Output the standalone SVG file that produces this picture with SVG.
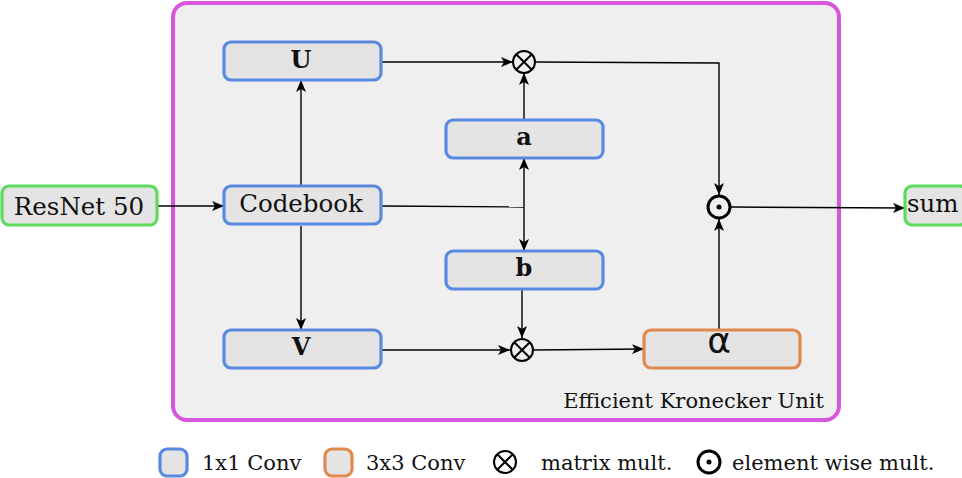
<svg xmlns="http://www.w3.org/2000/svg" width="962" height="478" viewBox="0 0 962 478">
<style>
.box{fill:#e4e4e4;stroke-width:3.2}
.blue{stroke:#5a8ae0}
.orange{stroke:#e0894f}
.green{stroke:#5cdc5c}
.t{font-family:"DejaVu Serif",serif;font-size:24.5px;fill:#111;text-anchor:middle}
.b{font-weight:bold;font-size:24px}
.lg{font-family:"DejaVu Serif",serif;font-size:21px;fill:#111}
.c{fill:none;stroke:#000;stroke-width:1.4}
.op{fill:none;stroke:#000;stroke-width:2}
</style>
<defs>
<marker id="ah" viewBox="0 0 12 10" refX="12" refY="5" markerWidth="12" markerHeight="10" markerUnits="userSpaceOnUse" orient="auto">
<path d="M0,0 L12,5 L0,10 L3,5 Z" fill="#000"/>
</marker>
</defs>
<rect x="0" y="0" width="962" height="478" fill="#fff"/>
<g id="ekunit">
<rect x="173" y="3" width="666" height="417" rx="14" fill="#efefef" stroke="#d855dd" stroke-width="4"/>
<text class="lg" x="824" y="408" text-anchor="end">Efficient Kronecker Unit</text>
</g>
<g id="connectors">
<path class="c" d="M158,206 H224" marker-end="url(#ah)"/>
<path class="c" d="M301,186 V80" marker-end="url(#ah)"/>
<path class="c" d="M301,226 V330" marker-end="url(#ah)"/>
<path class="c" d="M381,62 H513" marker-end="url(#ah)"/>
<path class="c" d="M381,206 L524,207"/>
<path class="c" d="M524,207 V158" marker-end="url(#ah)"/>
<path class="c" d="M524,207 V251" marker-end="url(#ah)"/>
<path class="c" d="M524,120 V73" marker-end="url(#ah)"/>
<path class="c" d="M535,62 L719,63 V195" marker-end="url(#ah)"/>
<path class="c" d="M522,289 V338" marker-end="url(#ah)"/>
<path class="c" d="M381,350 H510" marker-end="url(#ah)"/>
<path class="c" d="M534,350 L644,349" marker-end="url(#ah)"/>
<path class="c" d="M719,330 V219" marker-end="url(#ah)"/>
<path class="c" d="M731,207 L905,208" marker-end="url(#ah)"/>
</g>
<g id="resnet">
<rect class="box green" x="2" y="186" width="155" height="39" rx="7"/>
<text class="t" x="79" y="214.5">ResNet 50</text>
</g>
<g id="codebook">
<rect class="box blue" x="224" y="186" width="157" height="38" rx="7"/>
<text class="t" x="301" y="212">Codebook</text>
</g>
<g id="U">
<rect class="box blue" x="224" y="42" width="157" height="38" rx="7"/>
<text class="t b" x="301" y="67.5">U</text>
</g>
<g id="V">
<rect class="box blue" x="224" y="330" width="157" height="38" rx="7"/>
<text class="t b" x="301" y="355">V</text>
</g>
<g id="a">
<rect class="box blue" x="446" y="120" width="157" height="38" rx="7"/>
<text class="t b" x="524" y="144.5">a</text>
</g>
<g id="b">
<rect class="box blue" x="446" y="251" width="157" height="38" rx="7"/>
<text class="t b" x="524" y="276">b</text>
</g>
<g id="alpha">
<rect class="box orange" x="644" y="330" width="156" height="38" rx="7"/>
<text x="719" y="352.5" text-anchor="middle" font-family="DejaVu Sans,sans-serif" font-size="36" fill="#111">α</text>
</g>
<g id="sum">
<rect class="box green" x="905" y="186" width="62" height="39" rx="7"/>
<text x="907" y="212" font-family="DejaVu Serif,serif" font-size="24.5" fill="#111">sum</text>
</g>
<g id="otimes1">
<circle class="op" cx="524" cy="62" r="11"/>
<path class="op" d="M516.2,54.2 L531.8,69.8 M531.8,54.2 L516.2,69.8"/>
</g>
<g id="otimes2">
<circle class="op" cx="522" cy="350" r="11"/>
<path class="op" d="M514.2,342.2 L529.8,357.8 M529.8,342.2 L514.2,357.8"/>
</g>
<g id="odot">
<circle cx="719" cy="207" r="11" fill="none" stroke="#000" stroke-width="3"/>
<circle cx="719" cy="207" r="2.5" fill="#000"/>
</g>
<g id="legend">
<rect class="box blue" x="160" y="449" width="27" height="27" rx="7"/>
<text class="lg" x="202" y="470">1x1 Conv</text>
<rect class="box orange" x="325" y="449" width="27" height="27" rx="7"/>
<text class="lg" x="366" y="470">3x3 Conv</text>
<circle class="op" cx="505" cy="462" r="11"/>
<path class="op" d="M497.2,454.2 L512.8,469.8 M512.8,454.2 L497.2,469.8"/>
<text class="lg" x="541" y="470">matrix mult.</text>
<circle cx="709" cy="462" r="11" fill="none" stroke="#000" stroke-width="3"/>
<circle cx="709" cy="462" r="2.5" fill="#000"/>
<text class="lg" x="732" y="470">element wise mult.</text>
</g>
</svg>
